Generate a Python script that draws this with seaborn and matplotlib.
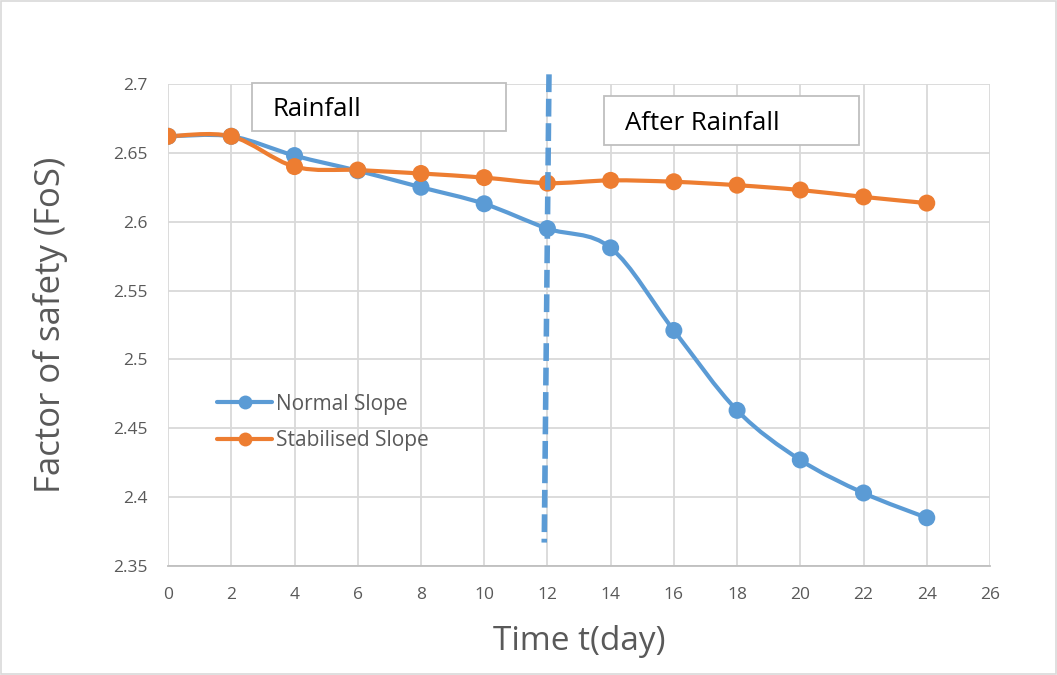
import numpy as np
import pandas as pd
import matplotlib
matplotlib.use("Agg")
import matplotlib.pyplot as plt
from matplotlib.path import Path
from matplotlib.patches import PathPatch, Rectangle
from matplotlib.lines import Line2D
from matplotlib.ticker import MultipleLocator, FuncFormatter
import seaborn as sns

# Time in days and factor of safety for both slopes
days = [0, 2, 4, 6, 8, 10, 12, 14, 16, 18, 20, 22, 24]
normal_fos = [2.662, 2.662, 2.648, 2.637, 2.625, 2.613, 2.595, 2.581,
              2.521, 2.463, 2.427, 2.403, 2.385]
stabilised_fos = [2.662, 2.662, 2.640, 2.6375, 2.635, 2.632, 2.628, 2.630,
                  2.629, 2.6265, 2.623, 2.618, 2.6135]
series_names = ["Normal Slope", "Stabilised Slope"]
phase_labels = ["Rainfall", "After Rainfall"]
rain_end_day = 12

BLUE = "#5B9BD5"
ORANGE = "#ED7D31"
TEXT = "#595959"
GRID = "#D9D9D9"

sns.set_theme(style="white")
plt.rcParams["font.family"] = ["Open Sans", "DejaVu Sans"]

df = pd.DataFrame({
    "day": days * 2,
    "fos": normal_fos + stabilised_fos,
    "series": [series_names[0]] * len(days) + [series_names[1]] * len(days),
})

fig = plt.figure(figsize=(10.57, 6.75), dpi=100)
ax = fig.add_axes([0.159, 0.1615, 0.7776, 0.7141])


def smooth_path(x, y):
    """Cubic Bezier path through the points (cardinal spline, tension 1/6)."""
    pts = np.column_stack([x, y]).astype(float)
    n = len(pts)
    verts = [pts[0]]
    codes = [Path.MOVETO]
    for i in range(n - 1):
        p0 = pts[i - 1] if i > 0 else pts[i]
        p1 = pts[i]
        p2 = pts[i + 1]
        p3 = pts[i + 2] if i + 2 < n else pts[i + 1]
        c1 = p1 + (p2 - p0) / 6.0
        c2 = p2 - (p3 - p1) / 6.0
        verts += [c1, c2, p2]
        codes += [Path.CURVE4] * 3
    return Path(verts, codes)


palette = {series_names[0]: BLUE, series_names[1]: ORANGE}
for name in series_names:
    sub = df[df["series"] == name]
    ax.add_patch(PathPatch(smooth_path(sub["day"], sub["fos"]), fill=False,
                           edgecolor=palette[name], lw=3.0, zorder=3,
                           capstyle="round"))

sns.scatterplot(data=df, x="day", y="fos", hue="series", palette=palette,
                s=150, edgecolor="none", linewidth=0, zorder=4, ax=ax,
                legend=False)

ax.set_xlim(0, 26)
ax.set_ylim(2.35, 2.7)
ax.xaxis.set_major_locator(MultipleLocator(2))
ax.yaxis.set_major_locator(MultipleLocator(0.05))
ax.yaxis.set_major_formatter(FuncFormatter(lambda v, _: f"{v:.2f}".rstrip("0").rstrip(".")))
ax.grid(True, color=GRID, lw=1.3, zorder=0)
ax.set_axisbelow(True)
for side in ["top", "right", "left"]:
    ax.spines[side].set_visible(False)
ax.spines["bottom"].set_color("#BFBFBF")
ax.spines["bottom"].set_linewidth(1.3)
ax.tick_params(axis="both", length=0, labelsize=12.5, colors=TEXT)
ax.tick_params(axis="y", pad=15)
ax.tick_params(axis="x", pad=15)

ax.set_xlabel("Time t(day)", fontsize=24, color=TEXT, labelpad=16)
ax.set_ylabel("Factor of safety (FoS)", fontsize=25, color=TEXT, labelpad=32)

# end-of-rainfall marker
ax.plot([rain_end_day + 0.05, rain_end_day - 0.1], [2.707, 2.367],
        color=BLUE, lw=4, ls=(0, (3.2, 1.2)), clip_on=False, zorder=5)

# phase boxes
box_specs = [(2.65, 2.666, 8.05, 0.035), (13.8, 2.656, 8.05, 0.035)]
for (bx, by, bw, bh), label in zip(box_specs, phase_labels):
    ax.add_patch(Rectangle((bx, by), bw, bh, facecolor="white",
                           edgecolor="#BFBFBF", lw=1.3, zorder=6, clip_on=False))
    ax.text(bx + 0.65, by + bh / 2 - 0.002, label, fontsize=18.5, color="black",
            va="center", ha="left", zorder=7)

handles = [Line2D([0], [0], color=palette[n], lw=3, marker="o", markersize=10,
                  markeredgewidth=0) for n in series_names]
leg = ax.legend(handles, series_names, loc="upper left",
                bbox_to_anchor=(0.05, 0.375), frameon=False, fontsize=15,
                handlelength=2.6, handletextpad=0.2, labelspacing=0.75,
                borderaxespad=0)
for t in leg.get_texts():
    t.set_color(TEXT)

fig.patches.append(Rectangle((0.001, 0.0015), 0.998, 0.997,
                             transform=fig.transFigure, fill=False,
                             edgecolor="#D9D9D9", lw=1.2))

fig.savefig("out.png", dpi=100, facecolor="white")
